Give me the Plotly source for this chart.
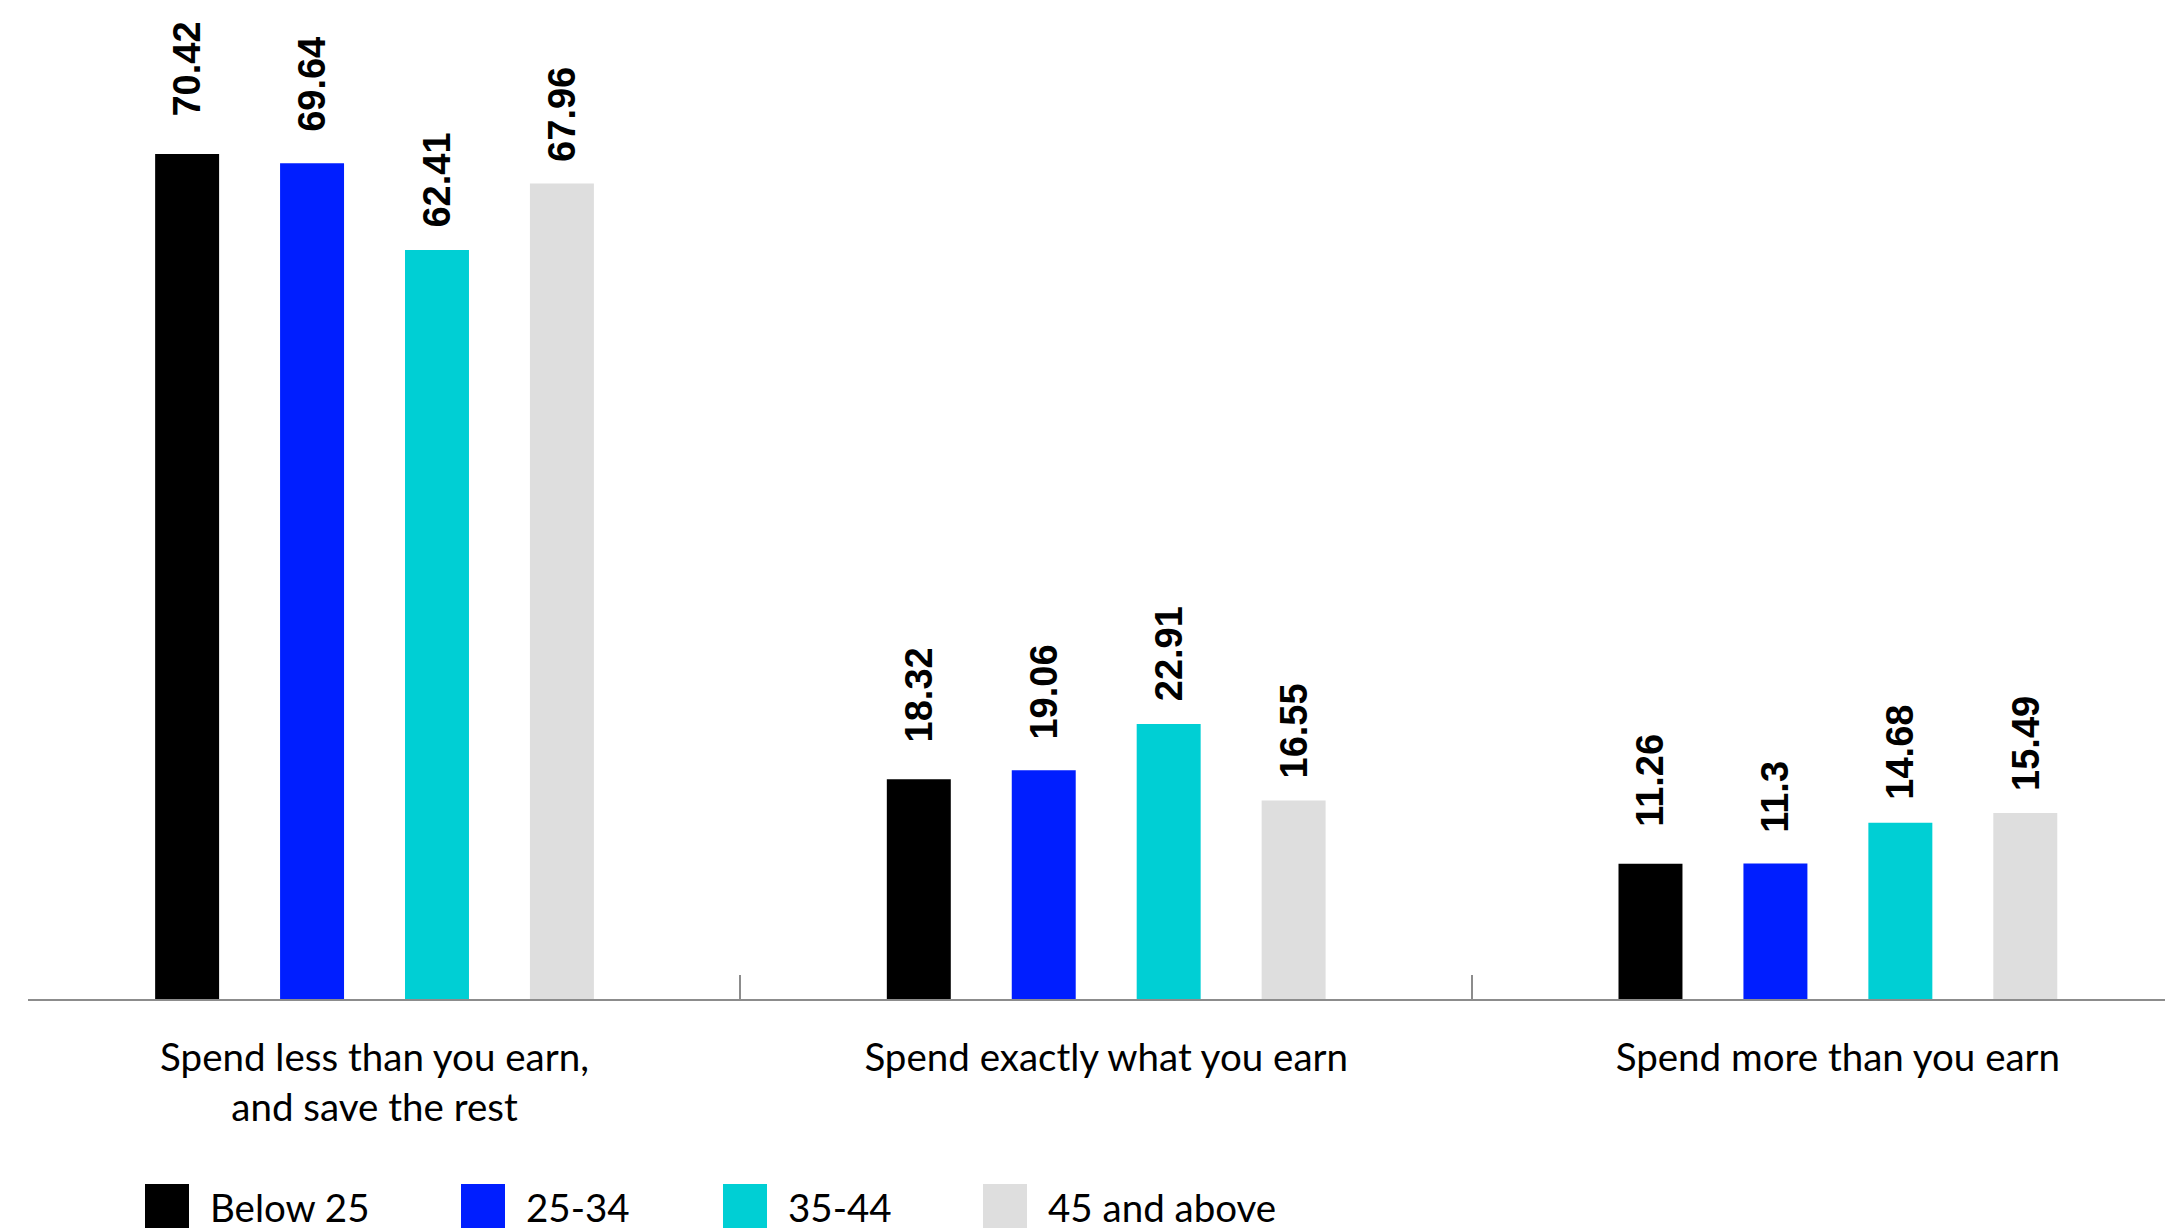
import plotly.graph_objects as go

categories = ["Spend less than you earn,<br>and save the rest",
              "Spend exactly what you earn",
              "Spend more than you earn"]
age_groups = ["Below 25", "25-34", "35-44", "45 and above"]

below_25 = [70.42, 18.32, 11.26]
age_25_34 = [69.64, 19.06, 11.3]
age_35_44 = [62.41, 22.91, 14.68]
age_45_up = [67.96, 16.55, 15.49]

series = [below_25, age_25_34, age_35_44, age_45_up]
colors = ["#000000", "#001eff", "#00cfd4", "#dedede"]

# label gaps above bars (px), per series as in the original
label_shift = [35, 29, 21, 20]

bargap = 0.317
slot = (1 - bargap) / len(series)

fig = go.Figure()
x = list(range(len(categories)))
for i, (name, vals) in enumerate(zip(age_groups, series)):
    fig.add_trace(go.Bar(x=x, y=vals, name=name, marker_color=colors[i],
                         marker_line_width=0, showlegend=False))
    off = (i - (len(series) - 1) / 2) * slot
    for xi, v in zip(x, vals):
        fig.add_annotation(x=xi + off, y=v, text=f"{v:g}", textangle=-90,
                           showarrow=False, yanchor="bottom", xanchor="center",
                           yshift=label_shift[i],
                           font=dict(family="Liberation Sans", size=38, color="#000000",
                                     weight="bold"))

# legend drawn by hand so the swatches can be big
sw_x = [117, 433, 695, 955]
for i, name in enumerate(age_groups):
    fig.add_shape(type="rect", xref="paper", yref="paper", xsizemode="pixel",
                  ysizemode="pixel", xanchor=0, yanchor=0,
                  x0=sw_x[i], x1=sw_x[i] + 44, y0=-229, y1=-185,
                  fillcolor=colors[i], line_width=0)
    fig.add_annotation(xref="paper", yref="paper", x=0, y=0,
                       xshift=sw_x[i] + 63, yshift=-208, xanchor="left",
                       yanchor="middle", text=name, showarrow=False,
                       font=dict(family="Lato", size=38.5, color="#000000"))

# page body has an 8px margin, so the figure is 8px smaller each way
fig.update_layout(
    width=2165, height=1222,
    margin=dict(l=20, r=0, t=0, b=231),
    paper_bgcolor="white", plot_bgcolor="white",
    barmode="group", bargap=bargap, bargroupgap=0.488,
    font=dict(family="Lato", color="#000000"),
)
fig.update_xaxes(range=[-0.4736, 2.458], tickvals=x, ticktext=categories,
                 ticks="", showline=True, linecolor="#8c8c8c", linewidth=2,
                 showgrid=False, zeroline=False, ticklabelstandoff=24,
                 tickfont=dict(family="Lato", size=38.5, color="#000000"),
                 minor=dict(tickvals=[0.5, 1.5], ticks="inside", ticklen=24,
                            tickwidth=1.5, tickcolor="#8c8c8c"))
fig.update_yaxes(range=[0, 82.58], visible=False)

fig.write_html("out.html")
